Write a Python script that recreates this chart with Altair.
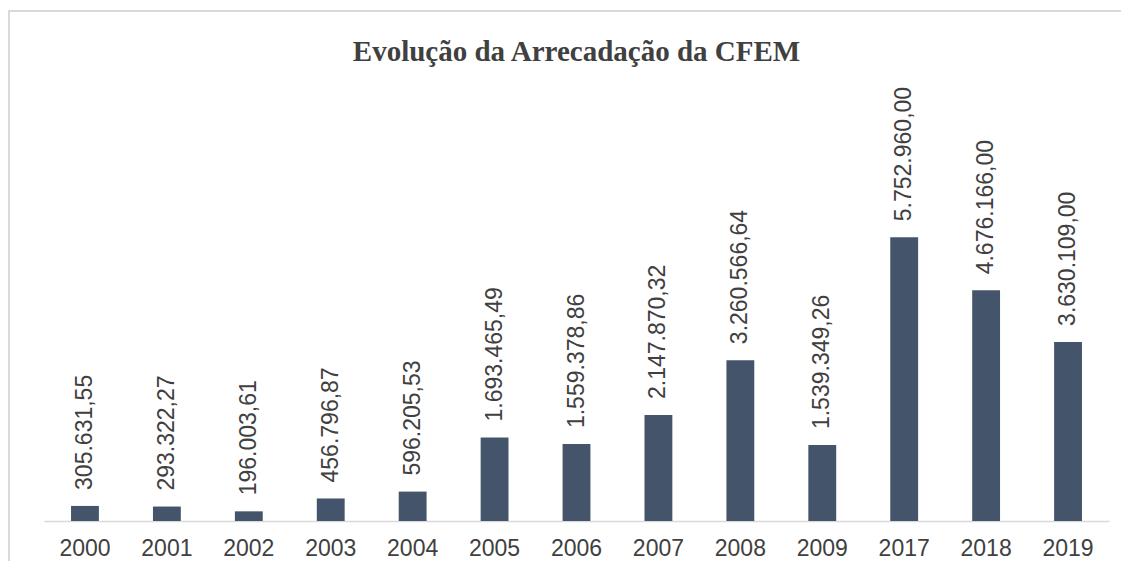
import altair as alt
import pandas as pd

years = ["2000", "2001", "2002", "2003", "2004", "2005", "2006", "2007", "2008", "2009", "2017", "2018", "2019"]
values = [305631.55, 293322.27, 196003.61, 456796.87, 596205.53, 1693465.49, 1559378.86,
          2147870.32, 3260566.64, 1539349.26, 5752960.00, 4676166.00, 3630109.00]
labels = ["305.631,55", "293.322,27", "196.003,61", "456.796,87", "596.205,53", "1.693.465,49",
          "1.559.378,86", "2.147.870,32", "3.260.566,64", "1.539.349,26", "5.752.960,00",
          "4.676.166,00", "3.630.109,00"]

df = pd.DataFrame({"ano": years, "valor": values, "rotulo": labels})

W = 1065
H = 444

x = alt.X("ano:N", sort=years,
          scale=alt.Scale(paddingInner=0.66, paddingOuter=0.33),
          axis=alt.Axis(title=None, labelAngle=0, labelFontSize=23, labelColor="#404040",
                        labelFont="Liberation Sans", ticks=False, labelPadding=16,
                        domainColor="#d9d9d9", domainWidth=1.5, grid=False))
y = alt.Y("valor:Q", scale=alt.Scale(domain=[0, 9000000], nice=False), axis=None)

bars = alt.Chart(df).mark_bar(color="#44546A").encode(x=x, y=y)

text = alt.Chart(df).mark_text(angle=270, align="left", baseline="middle", dx=16,
                               fontSize=23, font="Liberation Sans", color="#404040").encode(
    x=alt.X("ano:N", sort=years), y="valor:Q", text="rotulo:N")

frame = alt.Chart(df).mark_rect(fill=None, stroke="#d9d9d9", strokeWidth=1.5).encode(
    x=alt.value(-35), x2=alt.value(W + 40), y=alt.value(-66), y2=alt.value(H + 80))

chart = alt.layer(frame, bars, text).properties(
    width=W, height=H,
    title=alt.TitleParams("Evolução da Arrecadação da CFEM", font="Liberation Serif",
                          fontSize=29, fontWeight="bold", color="#404040", offset=12, dy=69),
    autosize=alt.AutoSizeParams(type="none"),
    padding={"left": 36, "top": 69, "right": 12, "bottom": 40},
).configure(background="white").configure_view(strokeWidth=0)

chart.save("out.html", embed_options={"renderer": "svg", "actions": False})
